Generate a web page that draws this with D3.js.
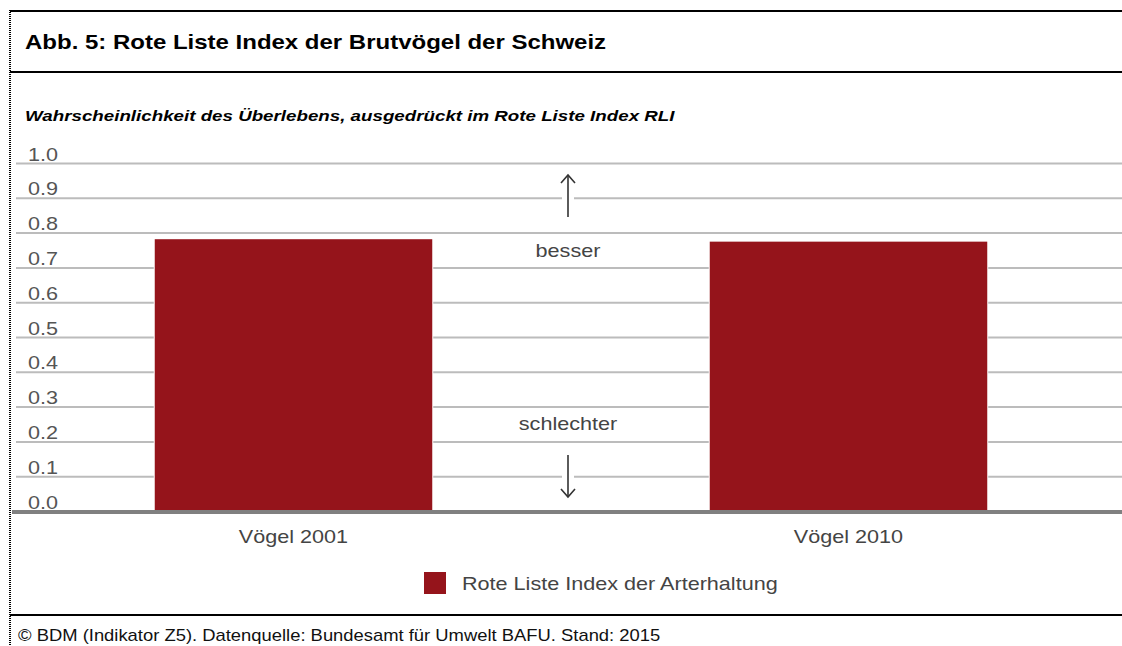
<!DOCTYPE html>
<html>
<head>
<meta charset="utf-8">
<script src="https://cdn.jsdelivr.net/npm/d3@7"></script>
<style>
  body { margin: 0; background: #fff; }
  svg { display: block; font-family: "Liberation Sans", Arial, sans-serif; }
</style>
</head>
<body>
<div id="chart"></div>
<script>
var categories = ['Vögel 2001', 'Vögel 2010'];
var values = [0.781, 0.774];
var yTicks = [0.0, 0.1, 0.2, 0.3, 0.4, 0.5, 0.6, 0.7, 0.8, 0.9, 1.0];
var seriesName = 'Rote Liste Index der Arterhaltung';

var w = 1122, h = 646;
var barColor = '#95141b';
var sx = 1.2; // the original is drawn slightly stretched horizontally

var svg = d3.select('#chart').append('svg')
  .attr('width', w)
  .attr('height', h);

// text helper: anchored at (x,y), widened by sx
function label(parent, x, y, txt, size, opts) {
  opts = opts || {};
  var g = parent.append('g')
    .attr('transform', 'translate(' + x + ',' + y + ') scale(' + (opts.sx || sx) + ',1)');
  return g.append('text')
    .attr('font-size', size)
    .attr('font-weight', opts.weight || 'normal')
    .attr('font-style', opts.style || 'normal')
    .attr('text-anchor', opts.anchor || 'start')
    .attr('fill', opts.fill || '#444')
    .text(txt);
}

// frame
svg.append('line').attr('x1', 10).attr('x2', 10).attr('y1', 10).attr('y2', h)
  .attr('stroke', '#000').attr('stroke-width', 2).attr('stroke-dasharray', '1,1');
[11, 72, 615].forEach(function(yy) {
  svg.append('line').attr('x1', 10).attr('x2', w).attr('y1', yy).attr('y2', yy)
    .attr('stroke', '#000').attr('stroke-width', 2);
});

label(svg, 25, 49, 'Abb. 5: Rote Liste Index der Brutvögel der Schweiz', 20, {weight: 'bold', fill: '#000'});
label(svg, 25, 121, 'Wahrscheinlichkeit des Überlebens, ausgedrückt im Rote Liste Index RLI', 15,
  {weight: 'bold', style: 'italic', fill: '#000', sx: 1.25});

// scales
var xScale = d3.scaleBand()
  .domain(categories)
  .range([16, 1126])
  .paddingInner(0.5)
  .paddingOuter(0.25);
var yScale = d3.scaleLinear()
  .domain([0, 1])
  .range([511, 163]);

// gridlines via axis
var yAxis = d3.axisRight(yScale)
  .tickValues(yTicks)
  .tickSize(w - 16)
  .tickFormat(d3.format('.1f'));

var gy = svg.append('g')
  .attr('transform', 'translate(16,0)')
  .call(yAxis);
gy.select('.domain').remove();
gy.selectAll('.tick line')
  .attr('stroke', '#bcbcbc')
  .attr('stroke-width', 2);
gy.selectAll('.tick text').remove();
gy.selectAll('.tick').each(function(d) {
  label(d3.select(this), 12, -3, d3.format('.1f')(d), 18, {fill: '#555'});
});

// bars
svg.selectAll('rect.bar')
  .data(values)
  .enter()
  .append('rect')
  .attr('class', 'bar')
  .attr('x', (d, i) => xScale(categories[i]))
  .attr('width', xScale.bandwidth())
  .attr('y', d => yScale(d))
  .attr('height', d => yScale(0) - yScale(d))
  .attr('fill', barColor)
  .attr('stroke', '#fff')
  .attr('stroke-width', 2)
  .attr('paint-order', 'stroke');

// baseline
svg.append('line').attr('x1', 12).attr('x2', w)
  .attr('y1', yScale(0) + 1).attr('y2', yScale(0) + 1)
  .attr('stroke', '#808080').attr('stroke-width', 4);

// category labels
var gx = svg.append('g')
  .attr('transform', 'translate(0,' + yScale(0) + ')')
  .call(d3.axisBottom(xScale).tickSize(0));
gx.select('.domain').remove();
gx.selectAll('.tick text').remove();
gx.selectAll('.tick').each(function(d) {
  label(d3.select(this), 0, 32, d, 18, {anchor: 'middle'});
});

// arrows
var ax = 568;
var arrowG = svg.append('g');
function arrow(y1, y2) {
  arrowG.append('rect').attr('x', ax - 6).attr('width', 12)
    .attr('y', Math.min(y1, y2)).attr('height', Math.abs(y2 - y1))
    .attr('fill', '#fff');
  arrowG.append('line').attr('x1', ax).attr('x2', ax).attr('y1', y1).attr('y2', y2)
    .attr('stroke', '#333').attr('stroke-width', 1.6);
  var dir = y2 > y1 ? -1 : 1;
  arrowG.append('path')
    .attr('d', 'M' + (ax - 7) + ',' + (y2 + dir * 8) + 'L' + ax + ',' + y2 + 'L' + (ax + 7) + ',' + (y2 + dir * 8))
    .attr('fill', 'none').attr('stroke', '#333').attr('stroke-width', 1.6);
}
arrow(217, 175);
arrow(455, 497);

label(svg, ax, 257, 'besser', 18, {anchor: 'middle'});
label(svg, ax, 430, 'schlechter', 18, {anchor: 'middle'});

// legend
svg.append('rect').attr('x', 424).attr('y', 572).attr('width', 22).attr('height', 22)
  .attr('fill', barColor);
label(svg, 462, 590, seriesName, 18);

// footer
label(svg, 18, 641, '©  BDM (Indikator Z5). Datenquelle: Bundesamt für Umwelt BAFU. Stand: 2015', 16,
  {fill: '#111', sx: 1.15});
</script>
</body>
</html>
